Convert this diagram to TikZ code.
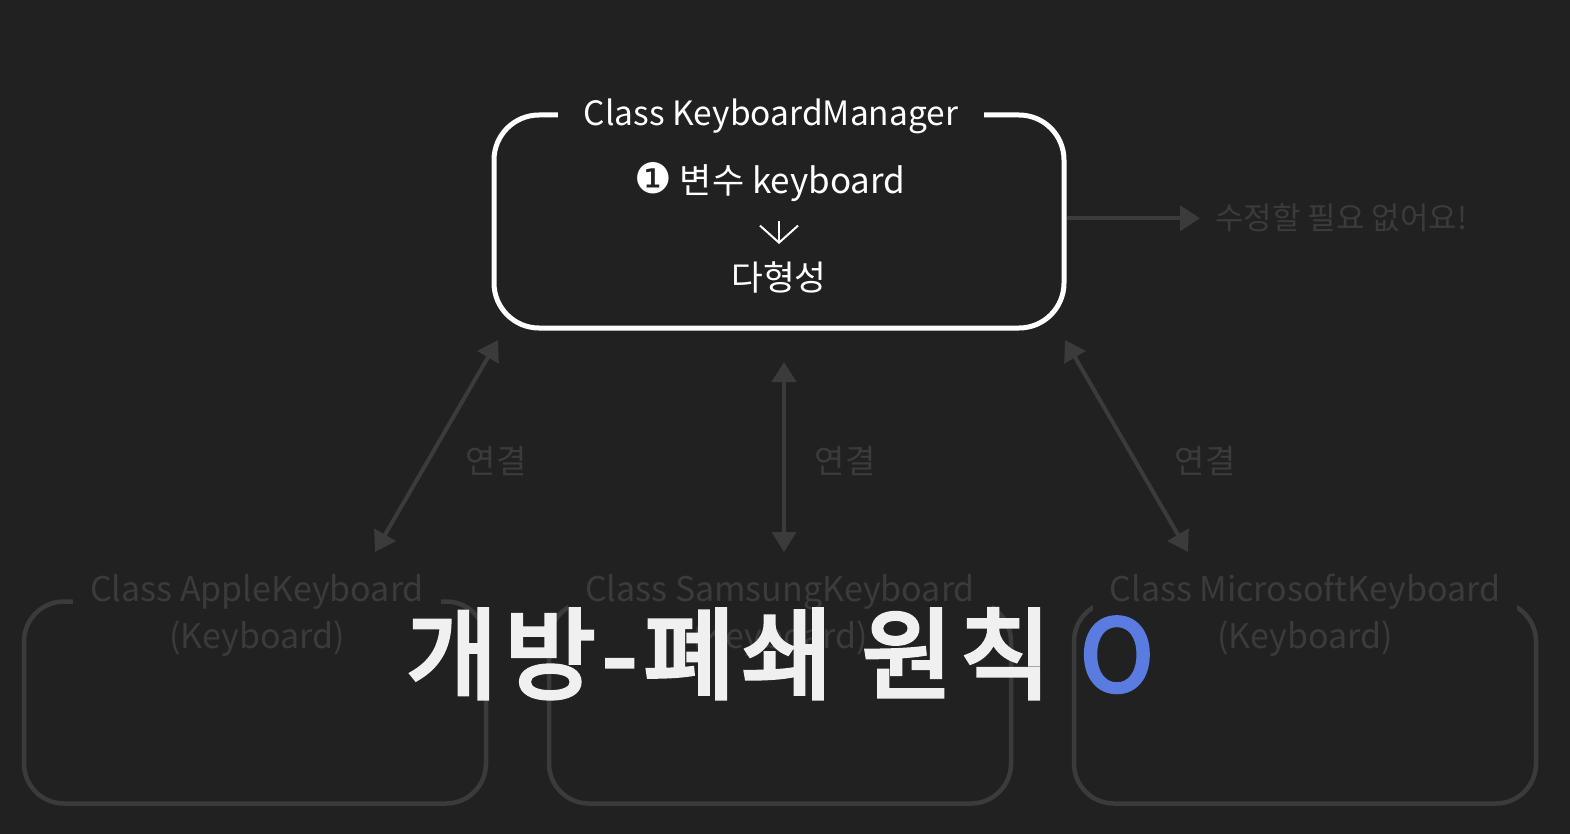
\documentclass[tikz,border=0pt]{standalone}
\usepackage{fontspec}
\setmainfont{Noto Sans CJK KR}
\newfontfamily\symfont{DejaVu Sans}
\newfontfamily\capfont[FakeBold=4, LetterSpace=7]{Noto Sans CJK KR}
\usetikzlibrary{arrows.meta,positioning}

\definecolor{bg}{HTML}{212121}
\definecolor{dim}{HTML}{3B3B3B}
\definecolor{ok}{HTML}{5A7BE0}

\tikzset{
    mgrbox/.style={draw=white, line width=5pt, rounded corners=45pt, minimum width=570pt, minimum height=213pt},
    kbbox/.style={draw=dim, line width=4.5pt, rounded corners=40pt, minimum width=462pt, minimum height=202pt},
    boxtitle/.style={fill=bg, inner xsep=26pt, inner ysep=2pt, anchor=base, font=\fontsize{33.5}{40}\selectfont},
    kbtitle/.style={fill=bg, text=dim, inner xsep=17pt, inner ysep=2pt, anchor=north, align=center, font=\fontsize{34}{47}\selectfont},
    inbox/.style={text=white, inner sep=2pt, anchor=base, font=\fontsize{35}{42}\selectfont},
    lbl/.style={text=dim, inner sep=2pt, anchor=base, font=\fontsize{33}{40}\selectfont},
    link/.style={draw=dim, line width=4pt, {Triangle[length=20pt,width=24pt]}-{Triangle[length=20pt,width=24pt]}}
}

\begin{document}
\begin{tikzpicture}[x=1pt,y=-1pt]
    % Background
    \fill[bg] (0,0) rectangle (1570,834);
    \useasboundingbox (0,0) rectangle (1570,834);

    % Nodes for the manager
    \node[mgrbox] (mgr) at (779,221.5) {};
    \node[boxtitle, text=white] (mgrtitle) at (771,125.5) {Class KeyboardManager};
    \node[inbox] (var) at (770,194) {{\symfont\fontsize{42}{42}\selectfont ❶} 변수 keyboard};
    \node[inbox, font=\fontsize{34.5}{42}\selectfont] (poly) at (779,290) {다형성};
    \draw[white, line width=2pt, -{Straight Barb[length=17pt,width=38pt]}, shorten <=17pt, shorten >=15pt] (poly.north |- var.south) -- (poly.north);

    % Note on the right
    \node[lbl, font=\fontsize{31}{36}\selectfont, anchor=base west] (note) at (1213,230) {수정할 필요 없어요!};
    \draw[dim, line width=4pt, -{Triangle[length=20pt,width=25pt]}, shorten >=13pt] (mgr.east |- note.west) -- (note.west);

    % Nodes for the keyboards
    \node[kbbox] (apple) at (255,702.5) {};
    \node[kbbox] (samsung) at (780,702.5) {};
    \node[kbbox] (ms) at (1305,702.5) {};
    \node[kbtitle] (appletitle) at (257,572) {Class AppleKeyboard\\(Keyboard)};
    \node[kbtitle] (samsungtitle) at (780,572) {Class SamsungKeyboard\\(Keyboard)};
    \node[kbtitle] (mstitle) at (1305,572) {Class MicrosoftKeyboard\\(Keyboard)};

    % Connections
    \coordinate (a1) at (498,340);
    \coordinate (a2) at (375,552);
    \coordinate (s1) at (784,362);
    \coordinate (s2) at (784,552);
    \coordinate (m1) at (1065,340);
    \coordinate (m2) at (1188,552);
    \draw[link] (a1) -- (a2);
    \draw[link] (s1) -- (s2);
    \draw[link] (m1) -- (m2);
    \node[lbl] (alink) at (496,473.5) {연결};
    \node[lbl] (slink) at (845,473.5) {연결};
    \node[lbl] (mlink) at (1205,473.5) {연결};

    % Caption
    \node[anchor=base, text=white!94!black, font=\capfont\fontsize{99}{110}\selectfont] (caption) at (780,691) {개방-폐쇄 원칙 \textcolor{ok}{O}};
\end{tikzpicture}
\end{document}
